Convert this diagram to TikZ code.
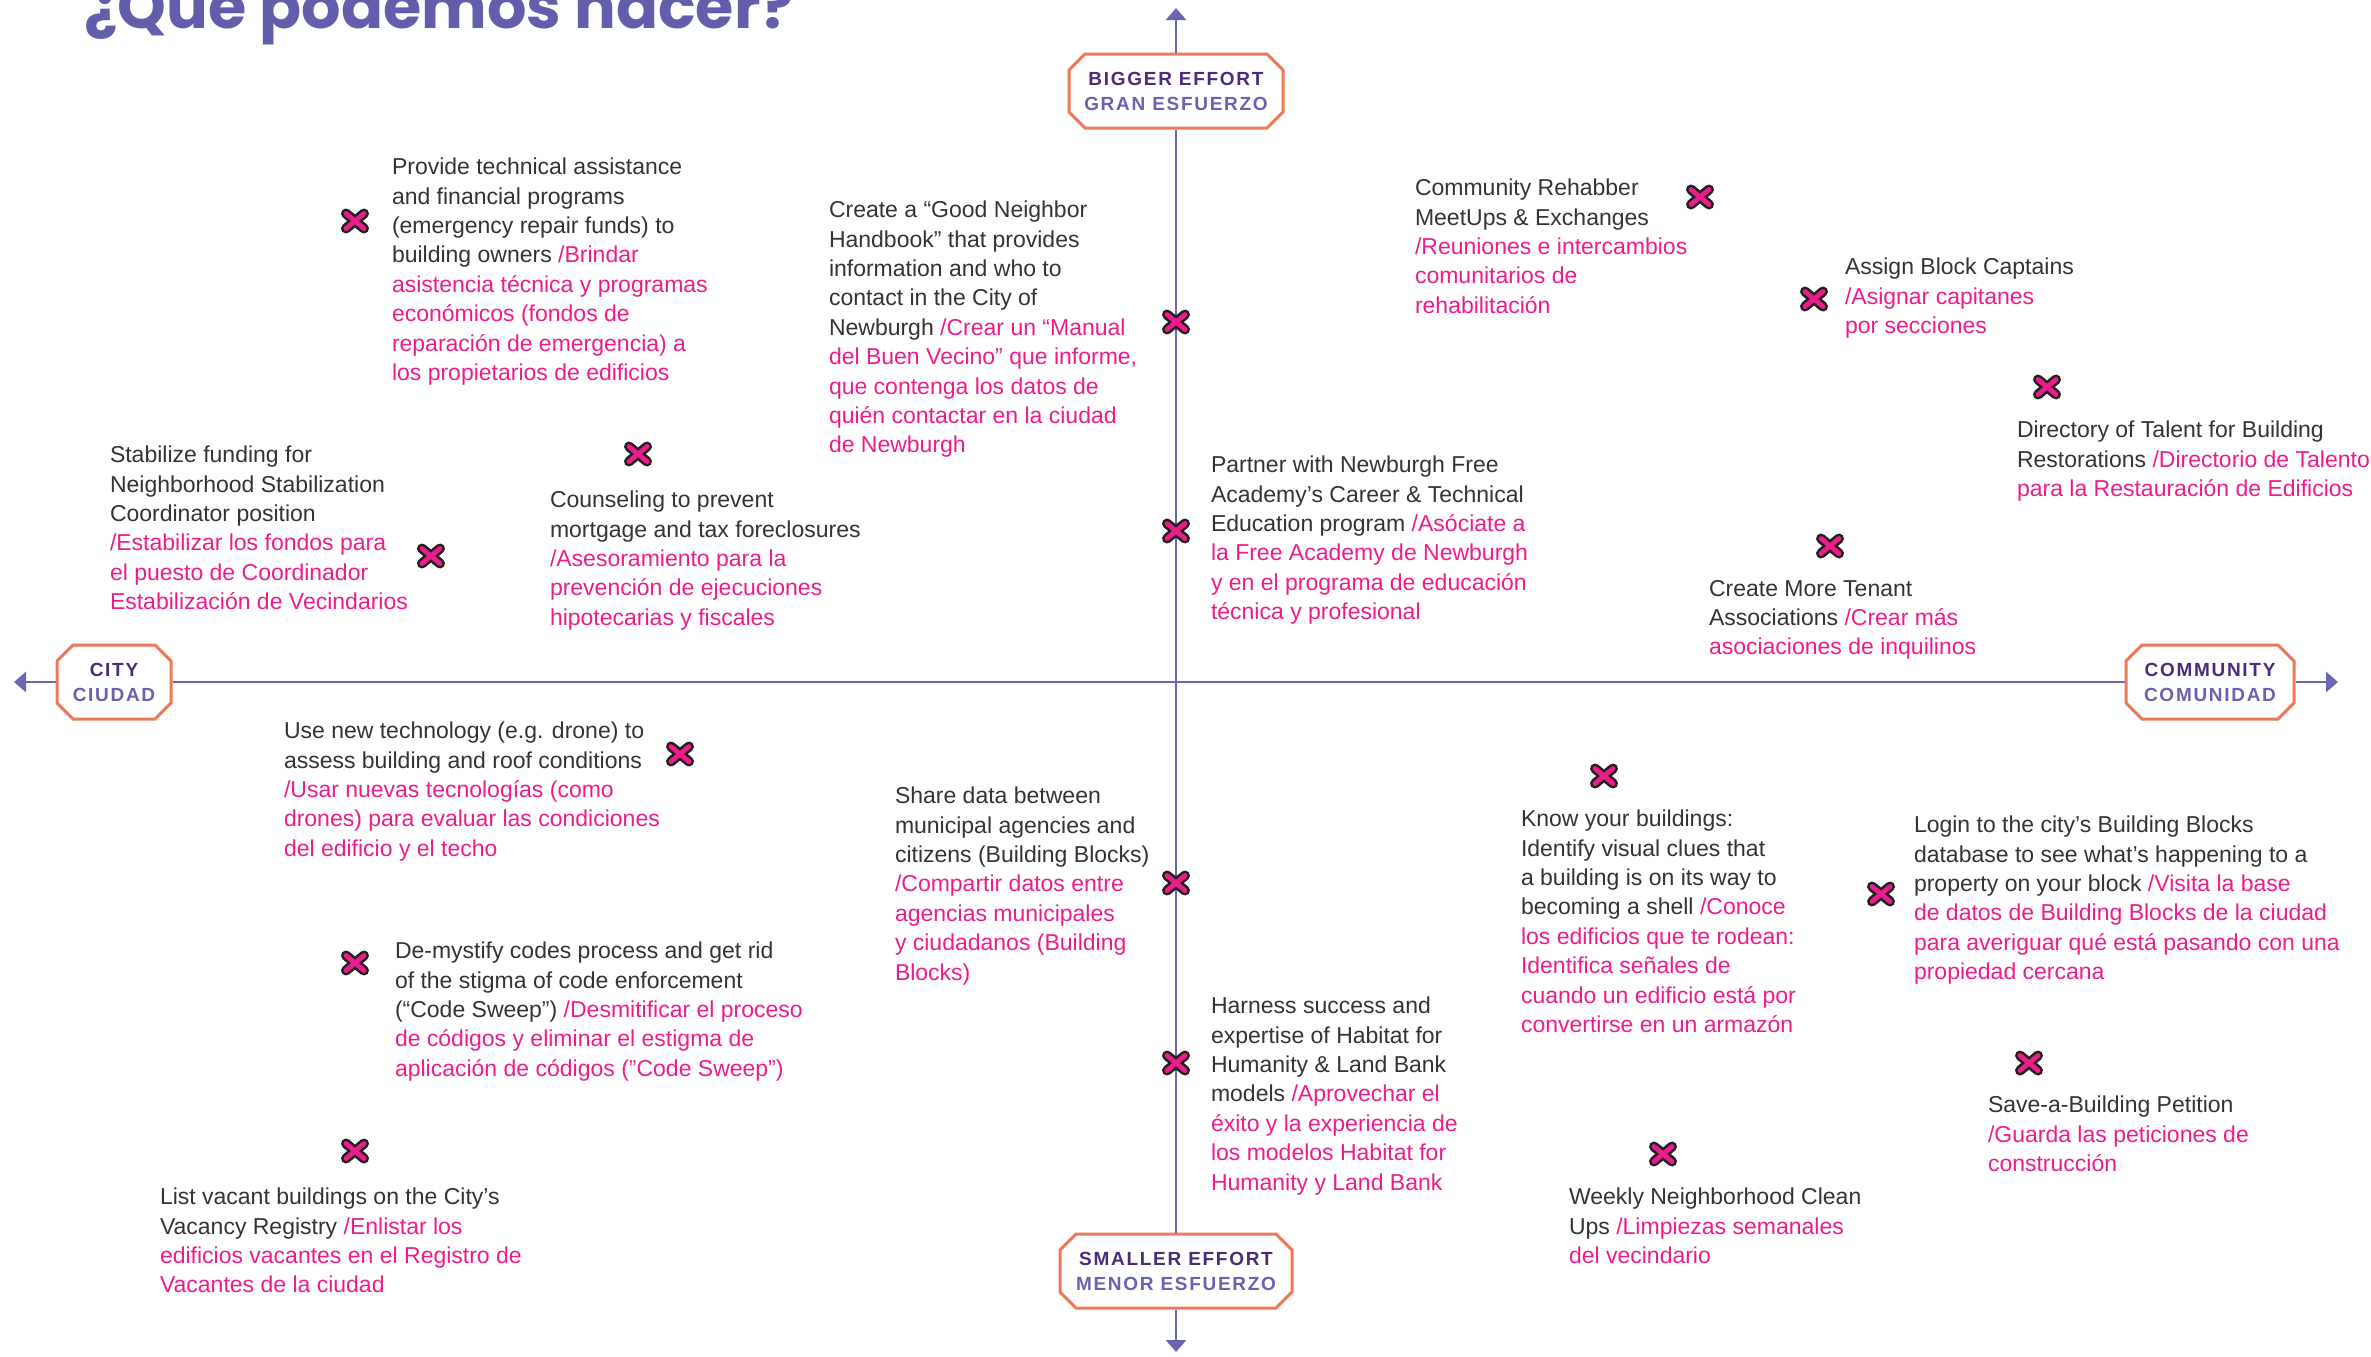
\documentclass[tikz,border=0pt]{standalone}
\usepackage{fontspec}
\setmainfont{Liberation Sans}
\newfontfamily\titlefont{Poppins}
\usetikzlibrary{shapes.misc,arrows.meta}
\definecolor{axisc}{RGB}{107,102,177}
\definecolor{titlec}{RGB}{99,94,172}
\definecolor{boxc}{RGB}{240,120,90}
\definecolor{boxtop}{RGB}{74,44,122}
\definecolor{boxbot}{RGB}{106,98,176}
\definecolor{eng}{RGB}{51,51,51}
\definecolor{esp}{RGB}{236,28,140}
\definecolor{xdark}{RGB}{35,31,32}
\newcommand\es[1]{\textcolor{esp}{#1}}
\newcommand\bl[1]{\textcolor{boxbot}{#1}}
\begin{document}
\begin{tikzpicture}[x=0.5pt,y=-0.5pt,
  txt/.style={anchor=north west, inner sep=0pt, outer sep=0pt, align=left, text=eng,
    font=\fontsize{11.5}{14.7}\selectfont, execute at begin node={\rule{0pt}{9pt}}},
  axbox/.style={chamfered rectangle, chamfered rectangle xsep=4pt, chamfered rectangle ysep=4pt,
    draw=boxc, line width=1.5pt, fill=white, align=center, inner sep=0pt, text=boxtop,
    minimum height=37pt,
    font=\fontsize{9.5}{12.5}\selectfont\bfseries\addfontfeatures{LetterSpace=9}},
  axis/.style={draw=axisc, line width=1.4pt},
  axarrow/.style={axis, -{Triangle[width=10pt,length=6pt]}},
  xm/.style={minimum size=20pt, inner sep=0pt, outer sep=0pt},
  xout/.style={draw=xdark, line width=5pt, line cap=round},
  xin/.style={draw=esp, line width=2.4pt, line cap=round}
]
\useasboundingbox (0,0) rectangle (2371,1356);

% title
\node[anchor=base west, inner sep=0pt, text=titlec, font=\titlefont\bfseries\fontsize{31}{31}\selectfont] (title) at (84,28) {¿Que podemos hacer?};

% axis boxes
\node[axbox, minimum width=107pt] (big) at (1176,91) {BIGGER EFFORT\\\bl{GRAN ESFUERZO}};
\node[axbox, minimum width=116pt] (small) at (1176,1271) {SMALLER EFFORT\\\bl{MENOR ESFUERZO}};
\node[axbox, minimum width=57pt] (city) at (114,682) {CITY\\\bl{CIUDAD}};
\node[axbox, minimum width=84pt] (comm) at (2210,682) {COMMUNITY\\\bl{COMUNIDAD}};

\coordinate (T) at (1176,8);
\coordinate (B) at (1176,1352);
\coordinate (L) at (14,682);
\coordinate (R) at (2338,682);

\draw[axis] (big.south) -- (small.north);
\draw[axis] (city.east) -- (comm.west);
\draw[axarrow] (big.north) -- (T);
\draw[axarrow] (small.south) -- (B);
\draw[axarrow] (city.west) -- (L);
\draw[axarrow] (comm.east) -- (R);

% X marks
\node[xm] (x1) at (355,221) {};
\node[xm] (x2) at (1176,322) {};
\node[xm] (x3) at (1700,197) {};
\node[xm] (x4) at (1814,299) {};
\node[xm] (x5) at (2047,387) {};
\node[xm] (x6) at (638,454) {};
\node[xm] (x7) at (431,556) {};
\node[xm] (x8) at (1176,531) {};
\node[xm] (x9) at (1830,546) {};
\node[xm] (x10) at (680,754) {};
\node[xm] (x11) at (1604,776) {};
\node[xm] (x12) at (1176,883) {};
\node[xm] (x13) at (1881,894) {};
\node[xm] (x14) at (355,963) {};
\node[xm] (x15) at (1176,1063) {};
\node[xm] (x16) at (2029,1063) {};
\node[xm] (x17) at (355,1151) {};
\node[xm] (x18) at (1663,1154) {};
\foreach \n in {x1,x2,x3,x4,x5,x6,x7,x8,x9,x10,x11,x12,x13,x14,x15,x16,x17,x18}{
  \draw[xout] ([shift={(-4.5pt,-3.75pt)}]\n.center) -- ([shift={(4.5pt,3.75pt)}]\n.center)
              ([shift={(-4.5pt,3.75pt)}]\n.center) -- ([shift={(4.5pt,-3.75pt)}]\n.center);
  \draw[xin] ([shift={(-4.5pt,-3.75pt)}]\n.center) -- ([shift={(4.5pt,3.75pt)}]\n.center)
             ([shift={(-4.5pt,3.75pt)}]\n.center) -- ([shift={(4.5pt,-3.75pt)}]\n.center);
}

% text blocks
\node[txt] (tA) at (392,158) {Provide technical assistance\\and financial programs\\(emergency repair funds) to\\building owners \es{/Brindar}\\\es{asistencia técnica y programas}\\\es{económicos (fondos de}\\\es{reparación de emergencia) a}\\\es{los propietarios de edificios}};
\node[txt] (tB) at (829,201) {Create a “Good Neighbor\\Handbook” that provides\\information and who to\\contact in the City of\\Newburgh \es{/Crear un “Manual}\\\es{del Buen Vecino” que informe,}\\\es{que contenga los datos de}\\\es{quién contactar en la ciudad}\\\es{de Newburgh}};
\node[txt] (tC) at (1415,179) {Community Rehabber\\MeetUps \& Exchanges\\\es{/Reuniones e intercambios}\\\es{comunitarios de}\\\es{rehabilitación}};
\node[txt] (tD) at (1845,258) {Assign Block Captains\\\es{/Asignar capitanes}\\\es{por secciones}};
\node[txt] (tE) at (2017,421) {Directory of Talent for Building\\Restorations \es{/Directorio de Talento}\\\es{para la Restauración de Edificios}};
\node[txt] (tF) at (110,446) {Stabilize funding for\\Neighborhood Stabilization\\Coordinator position\\\es{/Estabilizar los fondos para}\\\es{el puesto de Coordinador}\\\es{Estabilización de Vecindarios}};
\node[txt] (tG) at (550,491) {Counseling to prevent\\mortgage and tax foreclosures\\\es{/Asesoramiento para la}\\\es{prevención de ejecuciones}\\\es{hipotecarias y fiscales}};
\node[txt] (tH) at (1211,456) {Partner with Newburgh Free\\Academy’s Career \& Technical\\Education program \es{/Asóciate a}\\\es{la Free Academy de Newburgh}\\\es{y en el programa de educación}\\\es{técnica y profesional}};
\node[txt] (tI) at (1709,580) {Create More Tenant\\Associations \es{/Crear más}\\\es{asociaciones de inquilinos}};
\node[txt] (tJ) at (284,722) {Use new technology (e.g. drone) to\\assess building and roof conditions\\\es{/Usar nuevas tecnologías (como}\\\es{drones) para evaluar las condiciones}\\\es{del edificio y el techo}};
\node[txt] (tK) at (895,787) {Share data between\\municipal agencies and\\citizens (Building Blocks)\\\es{/Compartir datos entre}\\\es{agencias municipales}\\\es{y ciudadanos (Building}\\\es{Blocks)}};
\node[txt] (tL) at (1521,810) {Know your buildings:\\Identify visual clues that\\a building is on its way to\\becoming a shell \es{/Conoce}\\\es{los edificios que te rodean:}\\\es{Identifica señales de}\\\es{cuando un edificio está por}\\\es{convertirse en un armazón}};
\node[txt] (tM) at (1914,816) {Login to the city’s Building Blocks\\database to see what’s happening to a\\property on your block \es{/Visita la base}\\\es{de datos de Building Blocks de la ciudad}\\\es{para averiguar qué está pasando con una}\\\es{propiedad cercana}};
\node[txt] (tN) at (395,942) {De-mystify codes process and get rid\\of the stigma of code enforcement\\(“Code Sweep”) \es{/Desmitificar el proceso}\\\es{de códigos y eliminar el estigma de}\\\es{aplicación de códigos ("Code Sweep")}};
\node[txt] (tO) at (1211,997) {Harness success and\\expertise of Habitat for\\Humanity \& Land Bank\\models \es{/Aprovechar el}\\\es{éxito y la experiencia de}\\\es{los modelos Habitat for}\\\es{Humanity y Land Bank}};
\node[txt] (tP) at (1988,1096) {Save-a-Building Petition\\\es{/Guarda las peticiones de}\\\es{construcción}};
\node[txt] (tQ) at (160,1188) {List vacant buildings on the City’s\\Vacancy Registry \es{/Enlistar los}\\\es{edificios vacantes en el Registro de}\\\es{Vacantes de la ciudad}};
\node[txt] (tR) at (1569,1188) {Weekly Neighborhood Clean\\Ups \es{/Limpiezas semanales}\\\es{del vecindario}};
\end{tikzpicture}
\end{document}
